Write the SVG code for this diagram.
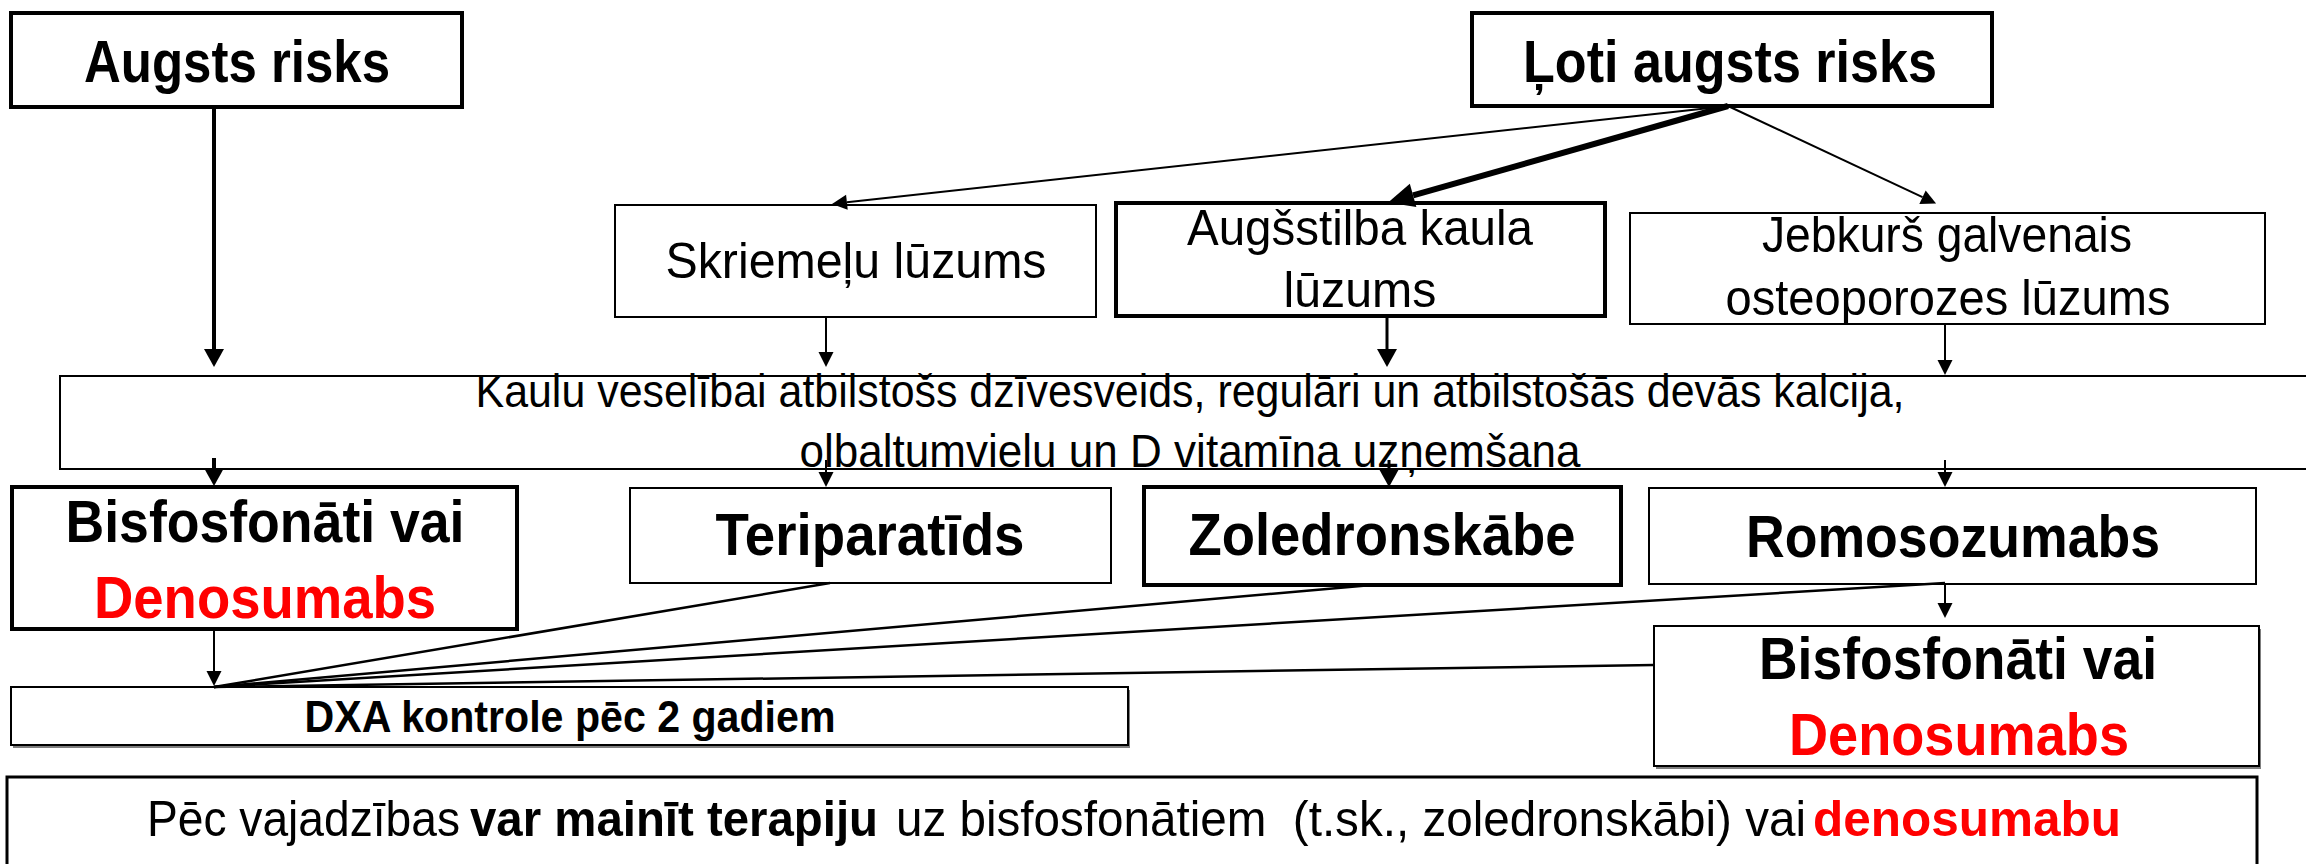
<svg xmlns="http://www.w3.org/2000/svg" width="2306" height="864" viewBox="0 0 2306 864">
<style>
.bx{fill:#fff;stroke:#000;stroke-width:2}
.bk{fill:#fff;stroke:#000;stroke-width:4}
.sh{fill:#7f7f7f;stroke:none}
text{font-family:"Liberation Sans",Arial,sans-serif;fill:#000}
.r{font-size:50px}
.b{font-size:60px;font-weight:bold}
.m{font-size:46px}
.d{font-size:44px;font-weight:bold}
.red{fill:#ff0000}
.c{text-anchor:middle}
.ln{stroke:#000;fill:none}
</style>
<defs>
<marker id="as" markerUnits="userSpaceOnUse" markerWidth="20" markerHeight="20" refX="0" refY="0" orient="auto" overflow="visible"><path d="M0,-7.5 L15,0 L0,7.5 z" fill="#000"/></marker>
<marker id="am" markerUnits="userSpaceOnUse" markerWidth="24" markerHeight="24" refX="0" refY="0" orient="auto" overflow="visible"><path d="M0,-10 L18,0 L0,10 z" fill="#000"/></marker>
<marker id="ab" markerUnits="userSpaceOnUse" markerWidth="30" markerHeight="30" refX="0" refY="0" orient="auto" overflow="visible"><path d="M0,-12 L26,0 L0,12 z" fill="#000"/></marker>
</defs>
<rect width="2306" height="864" fill="#fff"/>

<g id="augsts">
<rect class="bk" x="11" y="13" width="451" height="94"/>
<text class="b c" x="237" y="82" textLength="306" lengthAdjust="spacingAndGlyphs">Augsts risks</text>
</g>
<g id="loti">
<rect class="bk" x="1472" y="13" width="520" height="93"/>
<text class="b c" x="1730" y="82" textLength="414" lengthAdjust="spacingAndGlyphs">Ļoti augsts risks</text>
</g>
<g id="skriemelu">
<rect class="bx" x="615" y="205" width="481" height="112"/>
<text class="r c" x="856" y="278" textLength="381" lengthAdjust="spacingAndGlyphs">Skriemeļu lūzums</text>
</g>
<g id="augsstilba">
<rect class="bk" x="1116" y="203" width="489" height="113"/>
<text class="r c" x="1360" y="245" textLength="346" lengthAdjust="spacingAndGlyphs">Augšstilba kaula</text>
<text class="r c" x="1360" y="307" textLength="153" lengthAdjust="spacingAndGlyphs">lūzums</text>
</g>
<g id="jebkurs">
<rect class="bx" x="1630" y="213" width="635" height="111"/>
<text class="r c" x="1947" y="252" textLength="370" lengthAdjust="spacingAndGlyphs">Jebkurš galvenais</text>
<text class="r c" x="1948" y="315" textLength="445" lengthAdjust="spacingAndGlyphs">osteoporozes lūzums</text>
</g>
<g id="dzivesveids">
<rect class="bx" x="60" y="376" width="2270" height="93"/>
<text class="m c" x="1190" y="407" textLength="1429" lengthAdjust="spacingAndGlyphs">Kaulu veselībai atbilstošs dzīvesveids, regulāri un atbilstošās devās kalcija,</text>
<text class="m c" x="1190" y="467" textLength="781" lengthAdjust="spacingAndGlyphs">olbaltumvielu un D vitamīna uzņemšana</text>
</g>
<g id="bisf-left">
<rect class="bk" x="12" y="487" width="505" height="142"/>
<text class="b c" x="265" y="542" textLength="399" lengthAdjust="spacingAndGlyphs">Bisfosfonāti vai</text>
<text class="b c red" x="265" y="618" textLength="342" lengthAdjust="spacingAndGlyphs">Denosumabs</text>
</g>
<g id="teriparatids">
<rect class="bx" x="630" y="488" width="481" height="95"/>
<text class="b c" x="870" y="555" textLength="309" lengthAdjust="spacingAndGlyphs">Teriparatīds</text>
</g>
<g id="zoledronskabe">
<rect class="bk" x="1144" y="487" width="477" height="98"/>
<text class="b c" x="1382" y="555" textLength="387" lengthAdjust="spacingAndGlyphs">Zoledronskābe</text>
</g>
<g id="romosozumabs">
<rect class="bx" x="1649" y="488" width="607" height="96"/>
<text class="b c" x="1953" y="557" textLength="414" lengthAdjust="spacingAndGlyphs">Romosozumabs</text>
</g>
<g id="bisf-right">
<rect class="sh" x="1656" y="629" width="605" height="140"/>
<rect class="bx" x="1654" y="626" width="605" height="140"/>
<text class="b c" x="1958" y="679" textLength="398" lengthAdjust="spacingAndGlyphs">Bisfosfonāti vai</text>
<text class="b c red" x="1959" y="755" textLength="340" lengthAdjust="spacingAndGlyphs">Denosumabs</text>
</g>
<g id="dxa">
<rect class="sh" x="13" y="690" width="1117" height="58"/>
<rect class="bx" x="11" y="687" width="1117" height="58"/>
<text class="d c" x="570" y="732" textLength="531" lengthAdjust="spacingAndGlyphs">DXA kontrole pēc 2 gadiem</text>
</g>
<g id="piezime">
<rect class="bx" x="7" y="777" width="2250" height="103" style="stroke-width:3"/>
<text class="r" x="147" y="836" textLength="313" lengthAdjust="spacingAndGlyphs">Pēc vajadzības</text>
<text class="r" x="470" y="836" textLength="408" lengthAdjust="spacingAndGlyphs" font-weight="bold">var mainīt terapiju</text>
<text class="r" x="896" y="836" textLength="910" lengthAdjust="spacingAndGlyphs" xml:space="preserve">uz bisfosfonātiem  (t.sk., zoledronskābi) vai</text>
<text class="r red" x="1813" y="836" textLength="308" lengthAdjust="spacingAndGlyphs" font-weight="bold">denosumabu</text>
</g>

<g id="connectors">
<line class="ln" x1="214" y1="107" x2="214" y2="349" stroke-width="4" marker-end="url(#am)"/>
<line class="ln" x1="214" y1="458" x2="214" y2="468" stroke-width="4" marker-end="url(#am)"/>
<line class="ln" x1="1728" y1="106" x2="846.9" y2="202.3" stroke-width="2" marker-end="url(#as)"/>
<line class="ln" x1="1728" y1="106" x2="1413.1" y2="195.4" stroke-width="6" marker-end="url(#ab)"/>
<line class="ln" x1="1728" y1="106" x2="1922.5" y2="197.2" stroke-width="2" marker-end="url(#as)"/>
<line class="ln" x1="826" y1="317" x2="826" y2="352" stroke-width="2" marker-end="url(#as)"/>
<line class="ln" x1="1387" y1="317" x2="1387" y2="349" stroke-width="3" marker-end="url(#am)"/>
<line class="ln" x1="1945" y1="324" x2="1945" y2="360" stroke-width="2" marker-end="url(#as)"/>
<line class="ln" x1="826" y1="460" x2="826" y2="472" stroke-width="2" marker-end="url(#as)"/>
<line class="ln" x1="1389" y1="460" x2="1389" y2="469" stroke-width="3" marker-end="url(#am)"/>
<line class="ln" x1="1945" y1="460" x2="1945" y2="472" stroke-width="2" marker-end="url(#as)"/>
<line class="ln" x1="1945" y1="584" x2="1945" y2="603" stroke-width="2" marker-end="url(#as)"/>
<line class="ln" x1="214" y1="629" x2="214" y2="671" stroke-width="2" marker-end="url(#as)"/>
<line class="ln" x1="830" y1="583" x2="214" y2="687" stroke-width="2.5"/>
<line class="ln" x1="1372" y1="585" x2="214" y2="687" stroke-width="2.5"/>
<line class="ln" x1="1945" y1="583" x2="214" y2="687" stroke-width="2.5"/>
<line class="ln" x1="1654" y1="665" x2="214" y2="687" stroke-width="2.5"/>
</g>
</svg>
